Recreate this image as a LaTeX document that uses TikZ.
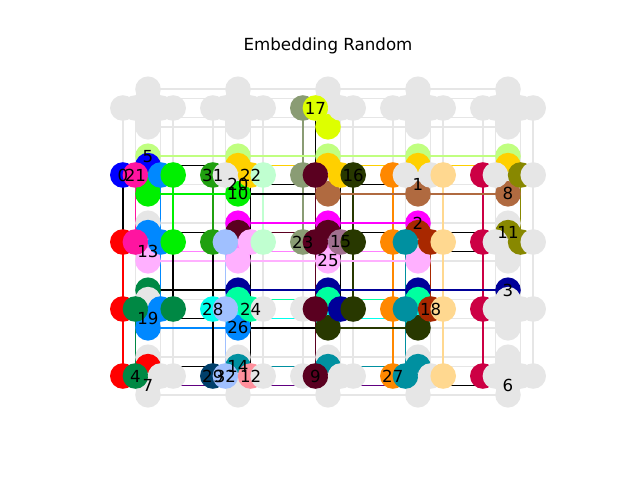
\documentclass[tikz,border=0pt]{standalone}
\usepackage{fontspec}
\setmainfont{DejaVu Sans}

\definecolor{nodegray}{HTML}{E6E6E6}
\definecolor{ch0}{HTML}{0000FF}
\definecolor{ch21}{HTML}{FF14A0}
\definecolor{ch5}{HTML}{C0FF80}
\definecolor{ch31}{HTML}{20A010}
\definecolor{ch22}{HTML}{FFD000}
\definecolor{chmint}{HTML}{C0FFD0}
\definecolor{ch10}{HTML}{00F000}
\definecolor{ch17}{HTML}{DDFF00}
\definecolor{ch16}{HTML}{283800}
\definecolor{ch8}{HTML}{B06A40}
\definecolor{ch2}{HTML}{FF00FF}
\definecolor{ch11}{HTML}{888800}
\definecolor{ch23}{HTML}{8A9C74}
\definecolor{ch15}{HTML}{A0708F}
\definecolor{ch13}{HTML}{FF80FF}
\definecolor{ch25}{HTML}{FFB0FF}
\definecolor{ch3}{HTML}{000099}
\definecolor{chazure}{HTML}{0088FF}
\definecolor{ch28}{HTML}{00FFEE}
\definecolor{ch24}{HTML}{00FFA0}
\definecolor{ch18}{HTML}{A82800}
\definecolor{ch4}{HTML}{008844}
\definecolor{ch7}{HTML}{600080}
\definecolor{ch29}{HTML}{003F6A}
\definecolor{ch32}{HTML}{A0C0FF}
\definecolor{ch14}{HTML}{0090A0}
\definecolor{ch12}{HTML}{FF909C}
\definecolor{ch9}{HTML}{5A0020}
\definecolor{ch27}{HTML}{FF8800}
\definecolor{ch6}{HTML}{CC0044}
\definecolor{chred}{HTML}{FF0000}
\definecolor{chpeach}{HTML}{FFD890}

% qubit -> chain colour, unlisted qubits stay gray
\newcommand\paint[2]{\expandafter\def\csname pc@#1\endcsname{#2}}
\paint{h-0-2-0}{ch23}\paint{h-0-2-1}{ch17}\paint{v-0-2-3}{ch17}
\paint{v-1-0-0}{ch5}\paint{v-1-0-1}{ch0}\paint{v-1-0-2}{ch10}\paint{v-1-0-3}{ch10}
\paint{h-1-0-0}{ch0}\paint{h-1-0-1}{ch21}\paint{h-1-0-2}{chazure}\paint{h-1-0-3}{ch10}
\paint{v-1-1-0}{ch5}\paint{v-1-1-1}{ch22}\paint{v-1-1-3}{ch10}
\paint{h-1-1-0}{ch31}\paint{h-1-1-2}{ch22}\paint{h-1-1-3}{chmint}
\paint{v-1-2-0}{ch5}\paint{v-1-2-1}{ch22}\paint{v-1-2-3}{ch8}
\paint{h-1-2-0}{ch23}\paint{h-1-2-1}{ch9}\paint{h-1-2-2}{ch22}\paint{h-1-2-3}{ch16}
\paint{v-1-3-0}{ch5}\paint{v-1-3-1}{ch22}\paint{v-1-3-3}{ch8}
\paint{h-1-3-0}{ch27}\paint{h-1-3-3}{chpeach}
\paint{v-1-4-0}{ch5}\paint{v-1-4-1}{ch22}\paint{v-1-4-3}{ch8}
\paint{h-1-4-0}{ch6}\paint{h-1-4-2}{ch11}
\paint{v-2-0-1}{chazure}\paint{v-2-0-2}{ch13}\paint{v-2-0-3}{ch25}
\paint{h-2-0-0}{chred}\paint{h-2-0-1}{ch21}\paint{h-2-0-2}{chazure}\paint{h-2-0-3}{ch10}
\paint{v-2-1-0}{ch2}\paint{v-2-1-1}{ch9}\paint{v-2-1-2}{ch13}\paint{v-2-1-3}{ch25}
\paint{h-2-1-0}{ch31}\paint{h-2-1-1}{ch32}\paint{h-2-1-2}{ch25}\paint{h-2-1-3}{chmint}
\paint{v-2-2-0}{ch2}\paint{v-2-2-1}{ch9}\paint{v-2-2-2}{ch13}\paint{v-2-2-3}{ch25}
\paint{h-2-2-0}{ch23}\paint{h-2-2-1}{ch9}\paint{h-2-2-2}{ch15}\paint{h-2-2-3}{ch16}
\paint{v-2-3-0}{ch2}\paint{v-2-3-1}{ch18}\paint{v-2-3-3}{ch25}
\paint{h-2-3-0}{ch27}\paint{h-2-3-1}{ch14}\paint{h-2-3-2}{ch18}\paint{h-2-3-3}{chpeach}
\paint{v-2-4-1}{ch11}
\paint{h-2-4-0}{ch6}\paint{h-2-4-2}{ch11}
\paint{v-3-0-0}{ch4}\paint{v-3-0-2}{chazure}\paint{v-3-0-3}{chazure}
\paint{h-3-0-0}{chred}\paint{h-3-0-1}{ch4}\paint{h-3-0-2}{chazure}\paint{h-3-0-3}{ch4}
\paint{v-3-1-0}{ch3}\paint{v-3-1-1}{ch24}\paint{v-3-1-2}{ch28}\paint{v-3-1-3}{chazure}
\paint{h-3-1-0}{ch28}\paint{h-3-1-1}{ch32}\paint{h-3-1-2}{ch24}
\paint{v-3-2-0}{ch3}\paint{v-3-2-1}{ch24}\paint{v-3-2-2}{ch28}\paint{v-3-2-3}{ch16}
\paint{h-3-2-1}{ch9}\paint{h-3-2-2}{ch3}\paint{h-3-2-3}{ch16}
\paint{v-3-3-0}{ch3}\paint{v-3-3-1}{ch24}\paint{v-3-3-2}{ch28}\paint{v-3-3-3}{ch16}
\paint{h-3-3-0}{ch27}\paint{h-3-3-1}{ch14}\paint{h-3-3-2}{ch18}\paint{h-3-3-3}{chpeach}
\paint{v-3-4-0}{ch3}
\paint{h-3-4-0}{ch6}
\paint{v-4-0-1}{chred}
\paint{h-4-0-0}{chred}\paint{h-4-0-1}{ch4}
\paint{v-4-1-1}{ch14}
\paint{h-4-1-0}{ch29}\paint{h-4-1-1}{ch32}\paint{h-4-1-2}{ch12}
\paint{v-4-2-1}{ch14}
\paint{h-4-2-1}{ch9}
\paint{v-4-3-1}{ch14}
\paint{h-4-3-0}{ch27}\paint{h-4-3-1}{ch14}\paint{h-4-3-3}{chpeach}
\paint{h-4-4-0}{ch6}

\begin{document}
\begin{tikzpicture}[x=1pt,y=-1pt,
    grayedge/.style={draw=nodegray,line width=1.5pt},
    chainedge/.style={line width=1.5pt},
    lbl/.style={inner sep=0pt,font=\fontsize{16.6}{16.6}\selectfont}]
            \useasboundingbox (0,0) rectangle (640,480);

            % qubits of the 5x5 cells
            \foreach \r in {0,...,4}{
              \foreach \c in {0,...,4}{
                \foreach \k/\d in {0/-25.2,1/-12.6,2/12.6,3/25.2}{
                  \coordinate (h-\r-\c-\k) at ({148+90*\c+\d},{108+67*\r});
                }
                \foreach \k/\d in {0/-18.8,1/-9.4,2/9.4,3/18.8}{
                  \coordinate (v-\r-\c-\k) at ({148+90*\c},{108+67*\r+\d});
                }
              }
            }

            \foreach \c in {0,...,4}{
              \foreach \k in {0,...,3}{
                \draw[grayedge] (h-0-\c-\k)--(h-4-\c-\k);
              }
            }
            \foreach \r in {0,...,4}{
              \foreach \k in {0,...,3}{
                \draw[grayedge] (v-\r-0-\k)--(v-\r-4-\k);
              }
            }

            % chains
            \draw[chainedge,chred] (h-2-0-0)--(h-4-0-0);
            \draw[chainedge,ch21] (h-1-0-1)--(h-2-0-1);
            \draw[chainedge,ch4] (h-3-0-1)--(h-4-0-1);
            \draw[chainedge,chazure] (h-1-0-2)--(h-3-0-2);
            \draw[chainedge,ch10] (h-1-0-3)--(h-2-0-3);
            \draw[chainedge,ch31] (h-1-1-0)--(h-2-1-0);
            \draw[chainedge,ch32] (h-2-1-1)--(h-4-1-1);
            \draw[chainedge,chmint] (h-1-1-3)--(h-2-1-3);
            \draw[chainedge,ch23] (h-0-2-0)--(h-2-2-0);
            \draw[chainedge,ch9] (h-1-2-1)--(h-4-2-1);
            \draw[chainedge,ch16] (h-1-2-3)--(h-3-2-3);
            \draw[chainedge,ch27] (h-1-3-0)--(h-4-3-0);
            \draw[chainedge,ch14] (h-2-3-1)--(h-4-3-1);
            \draw[chainedge,ch18] (h-2-3-2)--(h-3-3-2);
            \draw[chainedge,chpeach] (h-1-3-3)--(h-4-3-3);
            \draw[chainedge,ch6] (h-1-4-0)--(h-4-4-0);
            \draw[chainedge,ch11] (h-1-4-2)--(h-2-4-2);

            \draw[chainedge,ch5] (v-1-0-0)--(v-1-4-0);
            \draw[chainedge,ch22] (v-1-1-1)--(v-1-4-1);
            \draw[chainedge,ch10] (v-1-0-3)--(v-1-1-3);
            \draw[chainedge,ch8] (v-1-2-3)--(v-1-4-3);
            \draw[chainedge,ch2] (v-2-1-0)--(v-2-3-0);
            \draw[chainedge,ch9] (v-2-1-1)--(v-2-2-1);
            \draw[chainedge,ch13] (v-2-0-2)--(v-2-3-2);
            \draw[chainedge,ch25] (v-2-0-3)--(v-2-3-3);
            \draw[chainedge,ch3] (v-3-1-0)--(v-3-4-0);
            \draw[chainedge,ch24] (v-3-1-1)--(v-3-3-1);
            \draw[chainedge,ch28] (v-3-1-2)--(v-3-3-2);
            \draw[chainedge,chazure] (v-3-0-3)--(v-3-1-3);
            \draw[chainedge,ch16] (v-3-2-3)--(v-3-3-3);
            \draw[chainedge,ch14] (v-4-1-1)--(v-4-3-1);
            \draw[chainedge,ch7] (v-4-0-2)--(v-4-3-2);

            % couplers between chains
            \draw[chainedge,black] (h-1-0-0)--(h-2-0-0);
            \draw[chainedge,black] (h-2-0-3)--(h-3-0-3);
            \draw[chainedge,black] (h-2-1-0)--(h-4-1-0);
            \draw[chainedge,black] (h-1-1-2)--(h-4-1-2);
            \draw[chainedge,black] (h-0-2-1)--(h-1-2-1);
            \draw[chainedge,black] (h-1-2-2)--(h-3-2-2);
            \draw[chainedge,black] (v-1-0-1)--(v-1-1-1);
            \draw[chainedge,black] (v-1-1-2)--(v-1-3-2);
            \draw[chainedge,black] (v-1-1-3)--(v-1-2-3);
            \draw[chainedge,black] (v-2-0-1)--(v-2-1-1);
            \draw[chainedge,black] (v-2-2-1)--(v-2-4-1);
            \draw[chainedge,black] (v-2-3-2)--(v-2-4-2);
            \draw[chainedge,black] (v-3-0-0)--(v-3-1-0);
            \draw[chainedge,black] (v-3-0-2)--(v-3-1-2);
            \draw[chainedge,black] (v-3-1-3)--(v-3-2-3);
            \draw[chainedge,black] (v-4-0-1)--(v-4-1-1);
            \draw[chainedge,black] (v-4-3-2)--(v-4-4-2);

            % qubits, in drawing order
            \foreach \r in {0,...,4}{
              \foreach \c in {0,...,4}{
                \foreach \t/\k in {v/0,v/1,v/2,v/3,h/0,h/1,h/2,h/3}{
                  \ifcsname pc@\t-\r-\c-\k\endcsname
                    \edef\fillcol{\csname pc@\t-\r-\c-\k\endcsname}%
                  \else
                    \def\fillcol{nodegray}%
                  \fi
                  \fill[fill=\fillcol] (\t-\r-\c-\k) circle (12.8pt);
                }
              }
            }

            \node[lbl] (l17) at (h-0-2-1) {17};
            \node[lbl] (l5) at (v-1-0-0) {5};
            \node[lbl] (l0) at (h-1-0-0) {0};
            \node[lbl] (l21) at (h-1-0-1) {21};
            \node[lbl] (l31) at (h-1-1-0) {31};
            \node[lbl] (l20) at (v-1-1-2) {20};
            \node[lbl] (l22) at (h-1-1-2) {22};
            \node[lbl] (l10) at (v-1-1-3) {10};
            \node[lbl] (l16) at (h-1-2-3) {16};
            \node[lbl] (l1) at (v-1-3-2) {1};
            \node[lbl] (l8) at (v-1-4-3) {8};
            \node[lbl] (l2) at (v-2-3-0) {2};
            \node[lbl] (l11) at (v-2-4-1) {11};
            \node[lbl] (l13) at (v-2-0-2) {13};
            \node[lbl] (l23) at (h-2-2-0) {23};
            \node[lbl] (l15) at (h-2-2-2) {15};
            \node[lbl] (l25) at (v-2-2-3) {25};
            \node[lbl] (l3) at (v-3-4-0) {3};
            \node[lbl] (l19) at (v-3-0-2) {19};
            \node[lbl] (l28) at (h-3-1-0) {28};
            \node[lbl] (l24) at (h-3-1-2) {24};
            \node[lbl] (l26) at (v-3-1-3) {26};
            \node[lbl] (l18) at (h-3-3-2) {18};
            \node[lbl] (l4) at (h-4-0-1) {4};
            \node[lbl] (l7) at (v-4-0-2) {7};
            \node[lbl] (l29) at (h-4-1-0) {29};
            \node[lbl] (l32) at (h-4-1-1) {32};
            \node[lbl] (l14) at (v-4-1-1) {14};
            \node[lbl] (l12) at (h-4-1-2) {12};
            \node[lbl] (l9) at (h-4-2-1) {9};
            \node[lbl] (l27) at (h-4-3-0) {27};
            \node[lbl] (l6) at (v-4-4-2) {6};

            \node[anchor=base,font=\fontsize{16.67}{20}\selectfont] (title) at (328,50) {Embedding Random};
        \end{tikzpicture}
\end{document}
